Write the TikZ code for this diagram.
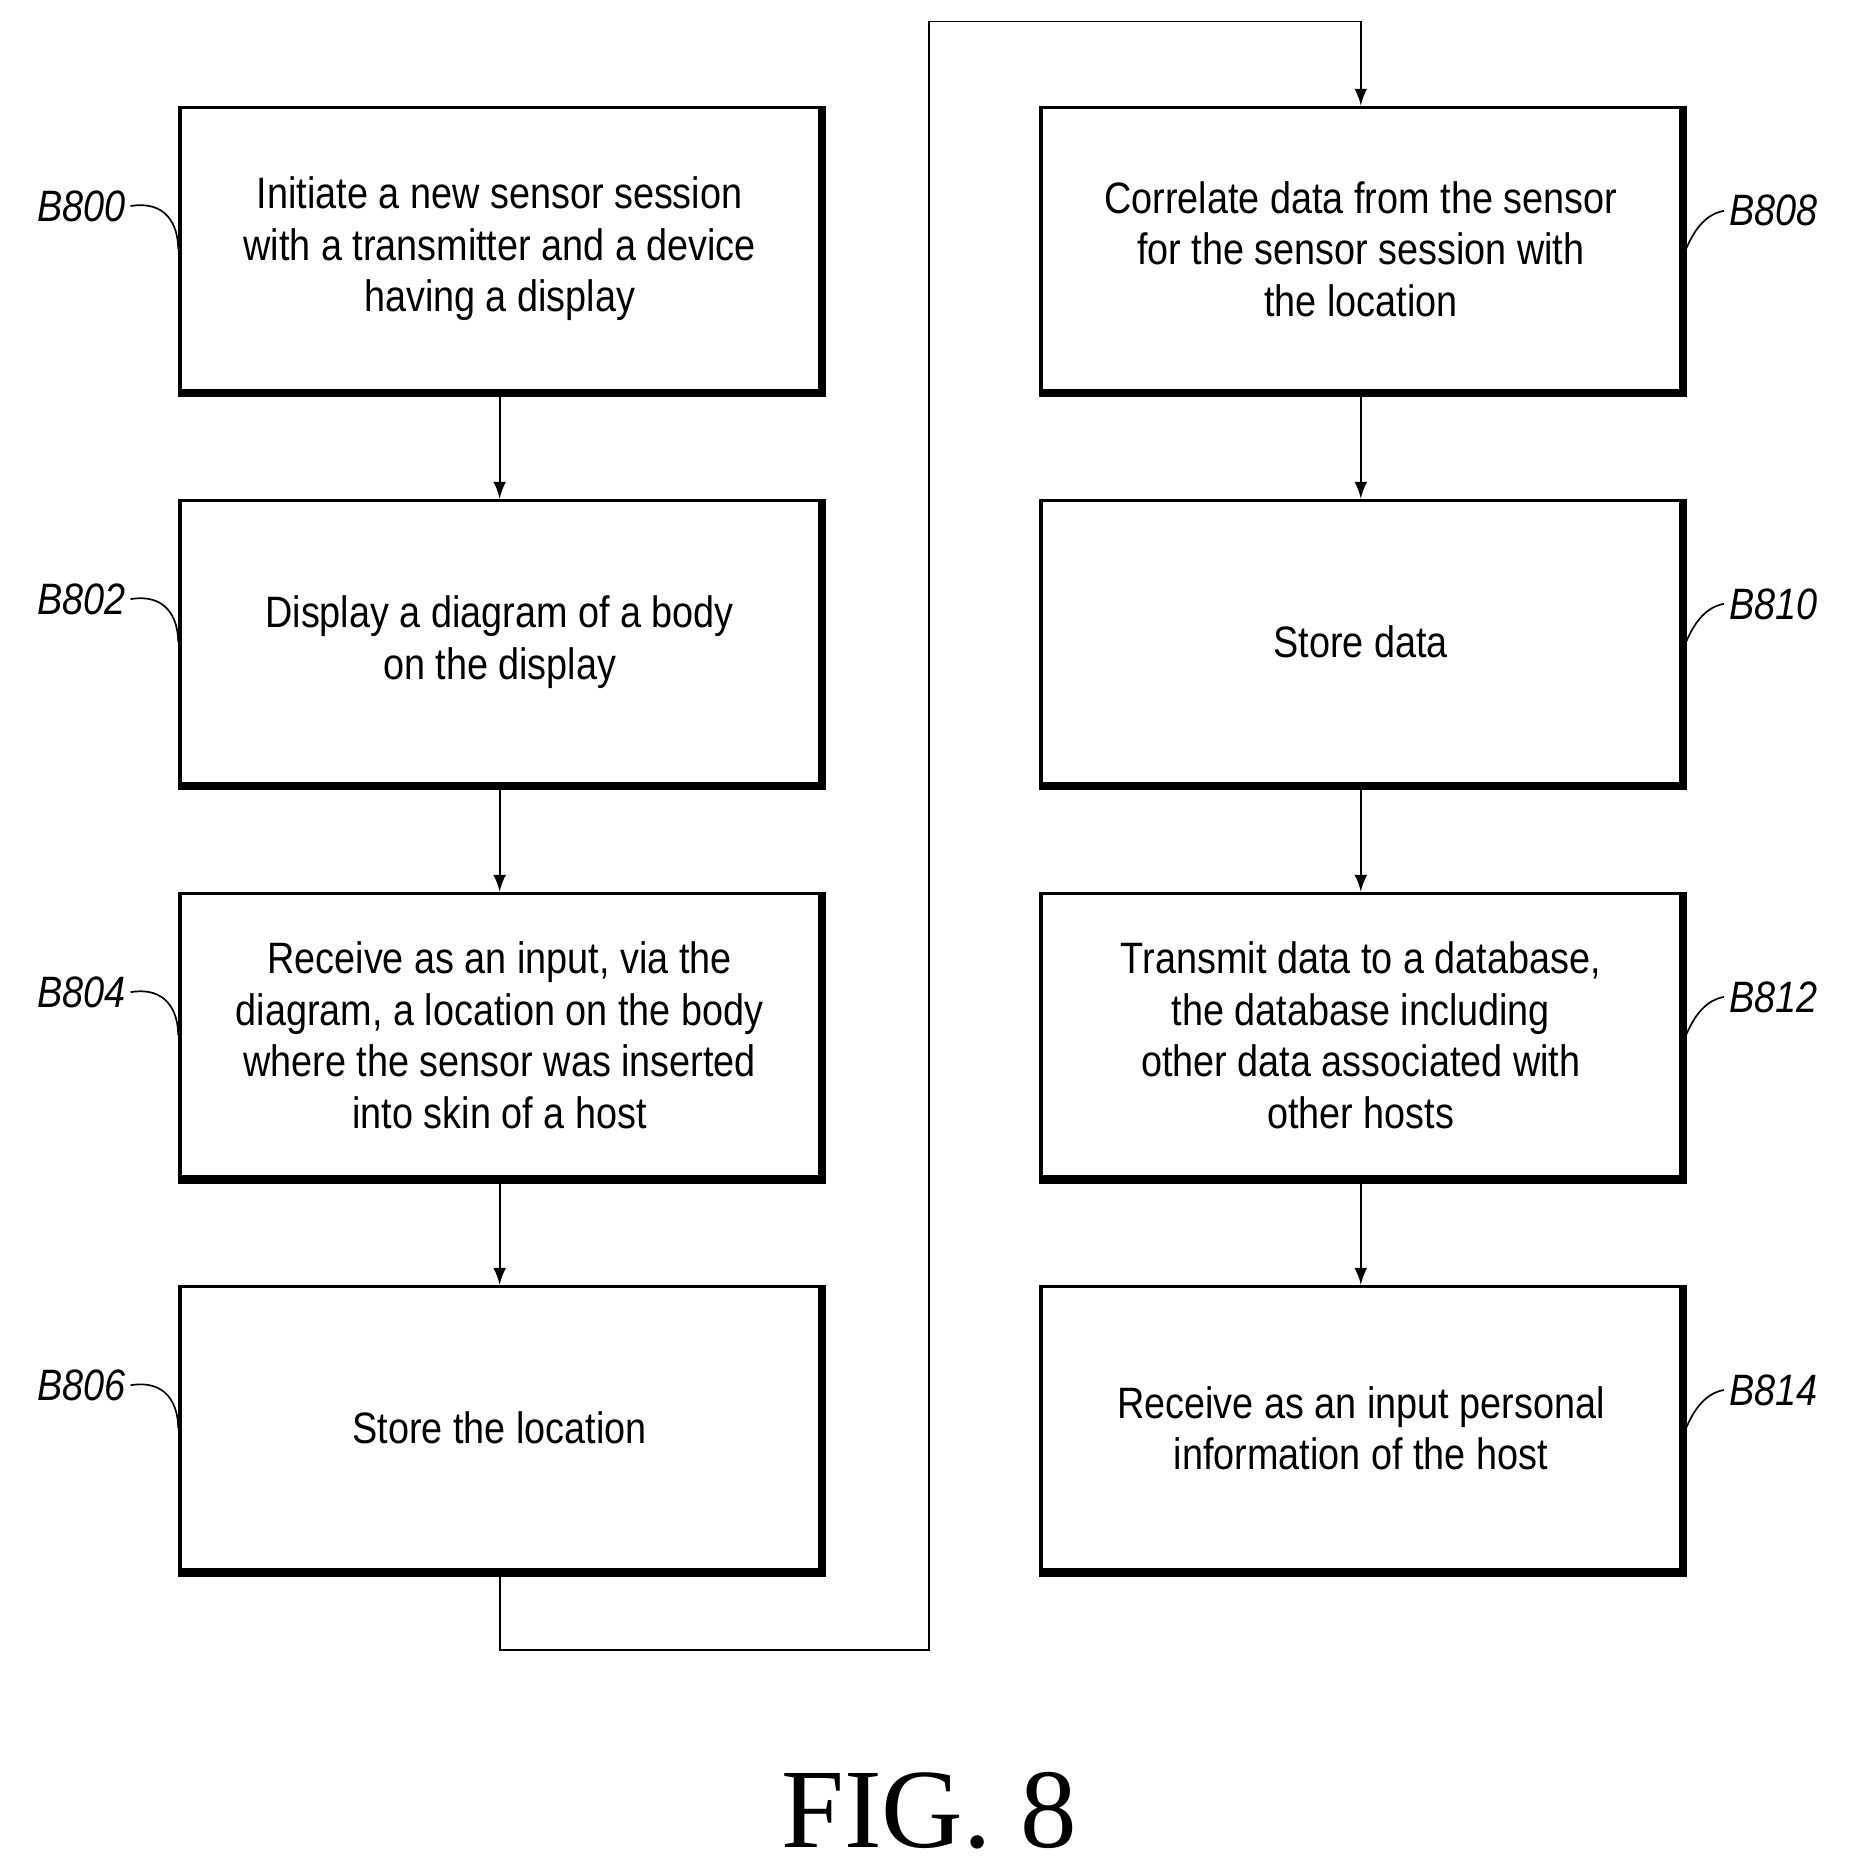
\documentclass[tikz,border=0pt]{standalone}
\usepackage{fontspec}
\setmainfont{Liberation Serif}
\newfontfamily\boxfont[FakeStretch=0.86]{Liberation Sans}
\usetikzlibrary{positioning}
\tikzset{
  procbox/.style={draw, thick, minimum width=5.37cm, minimum height=2.38cm, align=center,
    font=\boxfont\fontsize{10.5}{12.3}\selectfont},
  tag/.style={font=\boxfont\itshape\fontsize{10.5}{12}\selectfont},
  flow/.style={-latex, thin}
}
\newcommand{\boxshadow}[1]{\draw[line width=1.2pt] ([xshift=0.6pt]#1.north east) -- ([xshift=0.6pt,yshift=-0.6pt]#1.south east) -- ([yshift=-0.6pt]#1.south west);}
\begin{document}
\begin{tikzpicture}
\useasboundingbox (0,0) rectangle (15.6,-15.7);
% left column
\node[procbox] (b800) at (4.195,-2.09) {Initiate a new sensor session\\with a transmitter and a device\\having a display};
\node[procbox] (b802) at (4.195,-5.39) {Display a diagram of a body\\on the display};
\node[procbox] (b804) at (4.195,-8.69) {Receive as an input, via the\\diagram, a location on the body\\where the sensor was inserted\\into skin of a host};
\node[procbox] (b806) at (4.195,-11.99) {Store the location};
% right column
\node[procbox] (b808) at (11.425,-2.09) {Correlate data from the sensor\\for the sensor session with\\the location};
\node[procbox] (b810) at (11.425,-5.39) {Store data};
\node[procbox] (b812) at (11.425,-8.69) {Transmit data to a database,\\the database including\\other data associated with\\other hosts};
\node[procbox] (b814) at (11.425,-11.99) {Receive as an input personal\\information of the host};
\foreach \b in {b800,b802,b804,b806,b808,b810,b812,b814} {\boxshadow{\b}}
% arrows
\draw[flow] (b800) -- (b802);
\draw[flow] (b802) -- (b804);
\draw[flow] (b804) -- (b806);
\draw[flow] (b806.south) -- ++(0,-0.66) -| (7.8,-0.18) -| (b808.north);
\draw[flow] (b808) -- (b810);
\draw[flow] (b810) -- (b812);
\draw[flow] (b812) -- (b814);
% reference labels
\foreach \b/\t in {b800/B800,b802/B802,b804/B804,b806/B806} {
  \node[tag, anchor=east, inner sep=1pt] (l\b) at ([xshift=-0.4cm,yshift=0.36cm]\b.west) {\t};
  \draw (l\b.east) .. controls ++(0.3,0.05) and ++(0,0.2) .. (\b.west);
}
\foreach \b/\t in {b808/B808,b810/B810,b812/B812,b814/B814} {
  \node[tag, anchor=west, inner sep=1pt] (l\b) at ([xshift=0.35cm,yshift=0.32cm]\b.east) {\t};
  \draw (l\b.west) .. controls ++(-0.3,-0.05) and ++(0,-0.2) .. (\b.east);
}
\node[font=\fontsize{27}{30}\selectfont] (fig) at (7.8,-15.2) {FIG. 8};
\end{tikzpicture}
\end{document}
